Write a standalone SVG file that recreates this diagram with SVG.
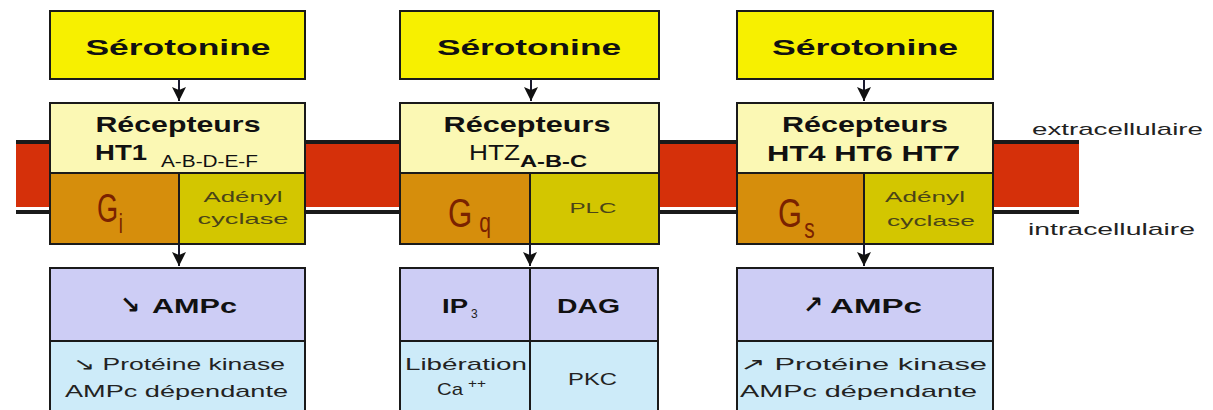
<svg xmlns="http://www.w3.org/2000/svg" width="1213" height="410" viewBox="0 0 1213 410">
<style>
.box{stroke:#1a1a1a;stroke-width:2}
.sero{fill:#f7f000}
.rec{fill:#fbf8b4}
.g{fill:#d68e0c}
.enz{fill:#d3c600}
.sec{fill:#cdcdf5}
.eff{fill:#cdebf9}
text{font-family:"Liberation Sans","DejaVu Sans",Arial,sans-serif}
.t1{font-size:22px;font-weight:bold;fill:#111;text-anchor:middle}
.sub{font-size:17px;fill:#111}
.gl{font-size:40px;fill:#7a2200}
.gs{font-size:27px}
.en{font-size:15px;fill:#4a4418;text-anchor:middle}
.am{font-size:21px;font-weight:bold;fill:#111}
.ef{font-size:17px;fill:#222;text-anchor:middle}
.side{font-size:17px;fill:#222}
.arr{font-family:"DejaVu Sans",sans-serif;font-size:24px;font-weight:bold;fill:#111;text-anchor:middle}
.conn{stroke:#1a1a2e;stroke-width:2;fill:none}
</style>
<defs>
<marker id="ah" viewBox="0 0 14 14" refX="14" refY="7" markerWidth="14" markerHeight="14" markerUnits="userSpaceOnUse" orient="auto">
<path d="M0,0 L14,7 L0,14 L3,7 z" fill="#111"/>
</marker>
</defs>
<rect width="1213" height="410" fill="#ffffff"/>
<g id="membrane">
<rect x="16" y="144" width="1063" height="63" fill="#d5300a"/>
<line x1="16" y1="142" x2="1079" y2="142" stroke="#1a1a1a" stroke-width="4"/>
<line x1="16" y1="212" x2="1079" y2="212" stroke="#1a1a1a" stroke-width="4"/>
</g>
<g id="col1">
<g id="sero1"><rect class="box sero" x="50" y="11" width="255" height="68"/><text class="t1" x="178" y="55" textLength="185" lengthAdjust="spacingAndGlyphs">Sérotonine</text></g>
<g id="rec1"><rect class="box rec" x="50" y="103" width="255" height="70"/><text class="t1" x="178" y="132" textLength="165" lengthAdjust="spacingAndGlyphs">Récepteurs</text><text class="t1" x="121" y="160" textLength="52" lengthAdjust="spacingAndGlyphs">HT1</text><text class="sub" x="161" y="167" textLength="97" lengthAdjust="spacingAndGlyphs">A-B-D-E-F</text></g>
<g id="g1"><rect class="box g" x="50" y="173" width="129" height="71"/><text class="gl" transform="translate(97,222) scale(0.68,1)">G<tspan class="gs" dx="1" dy="11">i</tspan></text></g>
<g id="enz1"><rect class="box enz" x="179" y="173" width="126" height="71"/><text class="en" x="243" y="202" textLength="79" lengthAdjust="spacingAndGlyphs">Adényl</text><text class="en" x="243" y="224" textLength="91" lengthAdjust="spacingAndGlyphs">cyclase</text></g>
<g id="sec1"><rect class="box sec" x="50" y="268" width="255" height="73"/><text class="arr" x="130" y="313">↘</text><text class="am" x="152" y="313" textLength="85" lengthAdjust="spacingAndGlyphs">AMPc</text></g>
<g id="eff1"><rect class="box eff" x="50" y="341" width="255" height="80"/><text class="ef" x="179" y="370" textLength="212" lengthAdjust="spacingAndGlyphs">↘ Protéine kinase</text><text class="ef" x="176.5" y="397" textLength="223" lengthAdjust="spacingAndGlyphs">AMPc dépendante</text></g>
</g>
<g id="col2">
<g id="sero2"><rect class="box sero" x="400" y="11" width="259" height="68"/><text class="t1" x="529" y="55" textLength="184" lengthAdjust="spacingAndGlyphs">Sérotonine</text></g>
<g id="rec2"><rect class="box rec" x="400" y="103" width="259" height="70"/><text class="t1" x="527" y="132" textLength="167" lengthAdjust="spacingAndGlyphs">Récepteurs</text><text x="469" y="160" font-size="22" fill="#111" textLength="51" lengthAdjust="spacingAndGlyphs">HTZ</text><text x="520" y="167" font-size="16" font-weight="bold" fill="#111" textLength="67" lengthAdjust="spacingAndGlyphs">A-B-C</text></g>
<g id="g2"><rect class="box g" x="400" y="173" width="130" height="71"/><text class="gl" transform="translate(448,227) scale(0.78,1)">G<tspan class="gs" dx="9" dy="5">q</tspan></text></g>
<g id="enz2"><rect class="box enz" x="530" y="173" width="129" height="71"/><text class="en" x="593" y="213" font-size="16" textLength="47" lengthAdjust="spacingAndGlyphs" fill="#333">PLC</text></g>
<g id="sec2"><rect class="box sec" x="400" y="268" width="258" height="73"/><line x1="530" y1="268" x2="530" y2="341" stroke="#1a1a1a" stroke-width="2"/><text class="am" x="442" y="313" textLength="26" lengthAdjust="spacingAndGlyphs">IP</text><text x="471" y="318" font-size="12" fill="#222">3</text><text class="am" x="557" y="313" textLength="63" lengthAdjust="spacingAndGlyphs">DAG</text></g>
<g id="eff2"><rect class="box eff" x="400" y="341" width="258" height="80"/><line x1="530" y1="341" x2="530" y2="410" stroke="#1a1a1a" stroke-width="2"/><text class="ef" x="466" y="370" textLength="122" lengthAdjust="spacingAndGlyphs">Libération</text><text x="437" y="395" font-size="17" fill="#222" textLength="26" lengthAdjust="spacingAndGlyphs">Ca</text><text x="468" y="388" font-size="12" fill="#222" textLength="18" lengthAdjust="spacingAndGlyphs">++</text><text class="ef" x="592.5" y="385" textLength="49" lengthAdjust="spacingAndGlyphs">PKC</text></g>
</g>
<g id="col3">
<g id="sero3"><rect class="box sero" x="737" y="11" width="256" height="68"/><text class="t1" x="865" y="55" textLength="186" lengthAdjust="spacingAndGlyphs">Sérotonine</text></g>
<g id="rec3"><rect class="box rec" x="737" y="103" width="256" height="70"/><text class="t1" x="865" y="132" textLength="166" lengthAdjust="spacingAndGlyphs">Récepteurs</text><text class="t1" x="863.5" y="161" textLength="193" lengthAdjust="spacingAndGlyphs">HT4 HT6 HT7</text></g>
<g id="g3"><rect class="box g" x="737" y="173" width="127" height="71"/><text class="gl" transform="translate(778,227) scale(0.77,1)">G<tspan class="gs" dx="3" dy="11">s</tspan></text></g>
<g id="enz3"><rect class="box enz" x="864" y="173" width="129" height="71"/><text class="en" x="925" y="202" textLength="80" lengthAdjust="spacingAndGlyphs">Adényl</text><text class="en" x="931" y="226" textLength="88" lengthAdjust="spacingAndGlyphs">cyclase</text></g>
<g id="sec3"><rect class="box sec" x="737" y="268" width="256" height="73"/><text class="arr" x="813" y="313">↗</text><text class="am" x="830" y="313" textLength="92" lengthAdjust="spacingAndGlyphs">AMPc</text></g>
<g id="eff3"><rect class="box eff" x="737" y="341" width="256" height="80"/><text class="ef" x="863.5" y="370" textLength="247" lengthAdjust="spacingAndGlyphs">↗ Protéine kinase</text><text class="ef" x="858.5" y="397" textLength="237" lengthAdjust="spacingAndGlyphs">AMPc dépendante</text></g>
</g>
<g id="labels">
<text class="side" x="1032" y="135" textLength="171" lengthAdjust="spacingAndGlyphs">extracellulaire</text>
<text class="side" x="1028" y="235" textLength="167" lengthAdjust="spacingAndGlyphs">intracellulaire</text>
</g>
<g id="connectors">
<line class="conn" x1="179" y1="79" x2="179" y2="101" marker-end="url(#ah)"/>
<line class="conn" x1="531" y1="79" x2="531" y2="101" marker-end="url(#ah)"/>
<line class="conn" x1="864" y1="79" x2="864" y2="101" marker-end="url(#ah)"/>
<line class="conn" x1="179" y1="244" x2="179" y2="266" marker-end="url(#ah)"/>
<line class="conn" x1="530" y1="244" x2="530" y2="266" marker-end="url(#ah)"/>
<line class="conn" x1="864" y1="244" x2="864" y2="266" marker-end="url(#ah)"/>
</g>
</svg>
